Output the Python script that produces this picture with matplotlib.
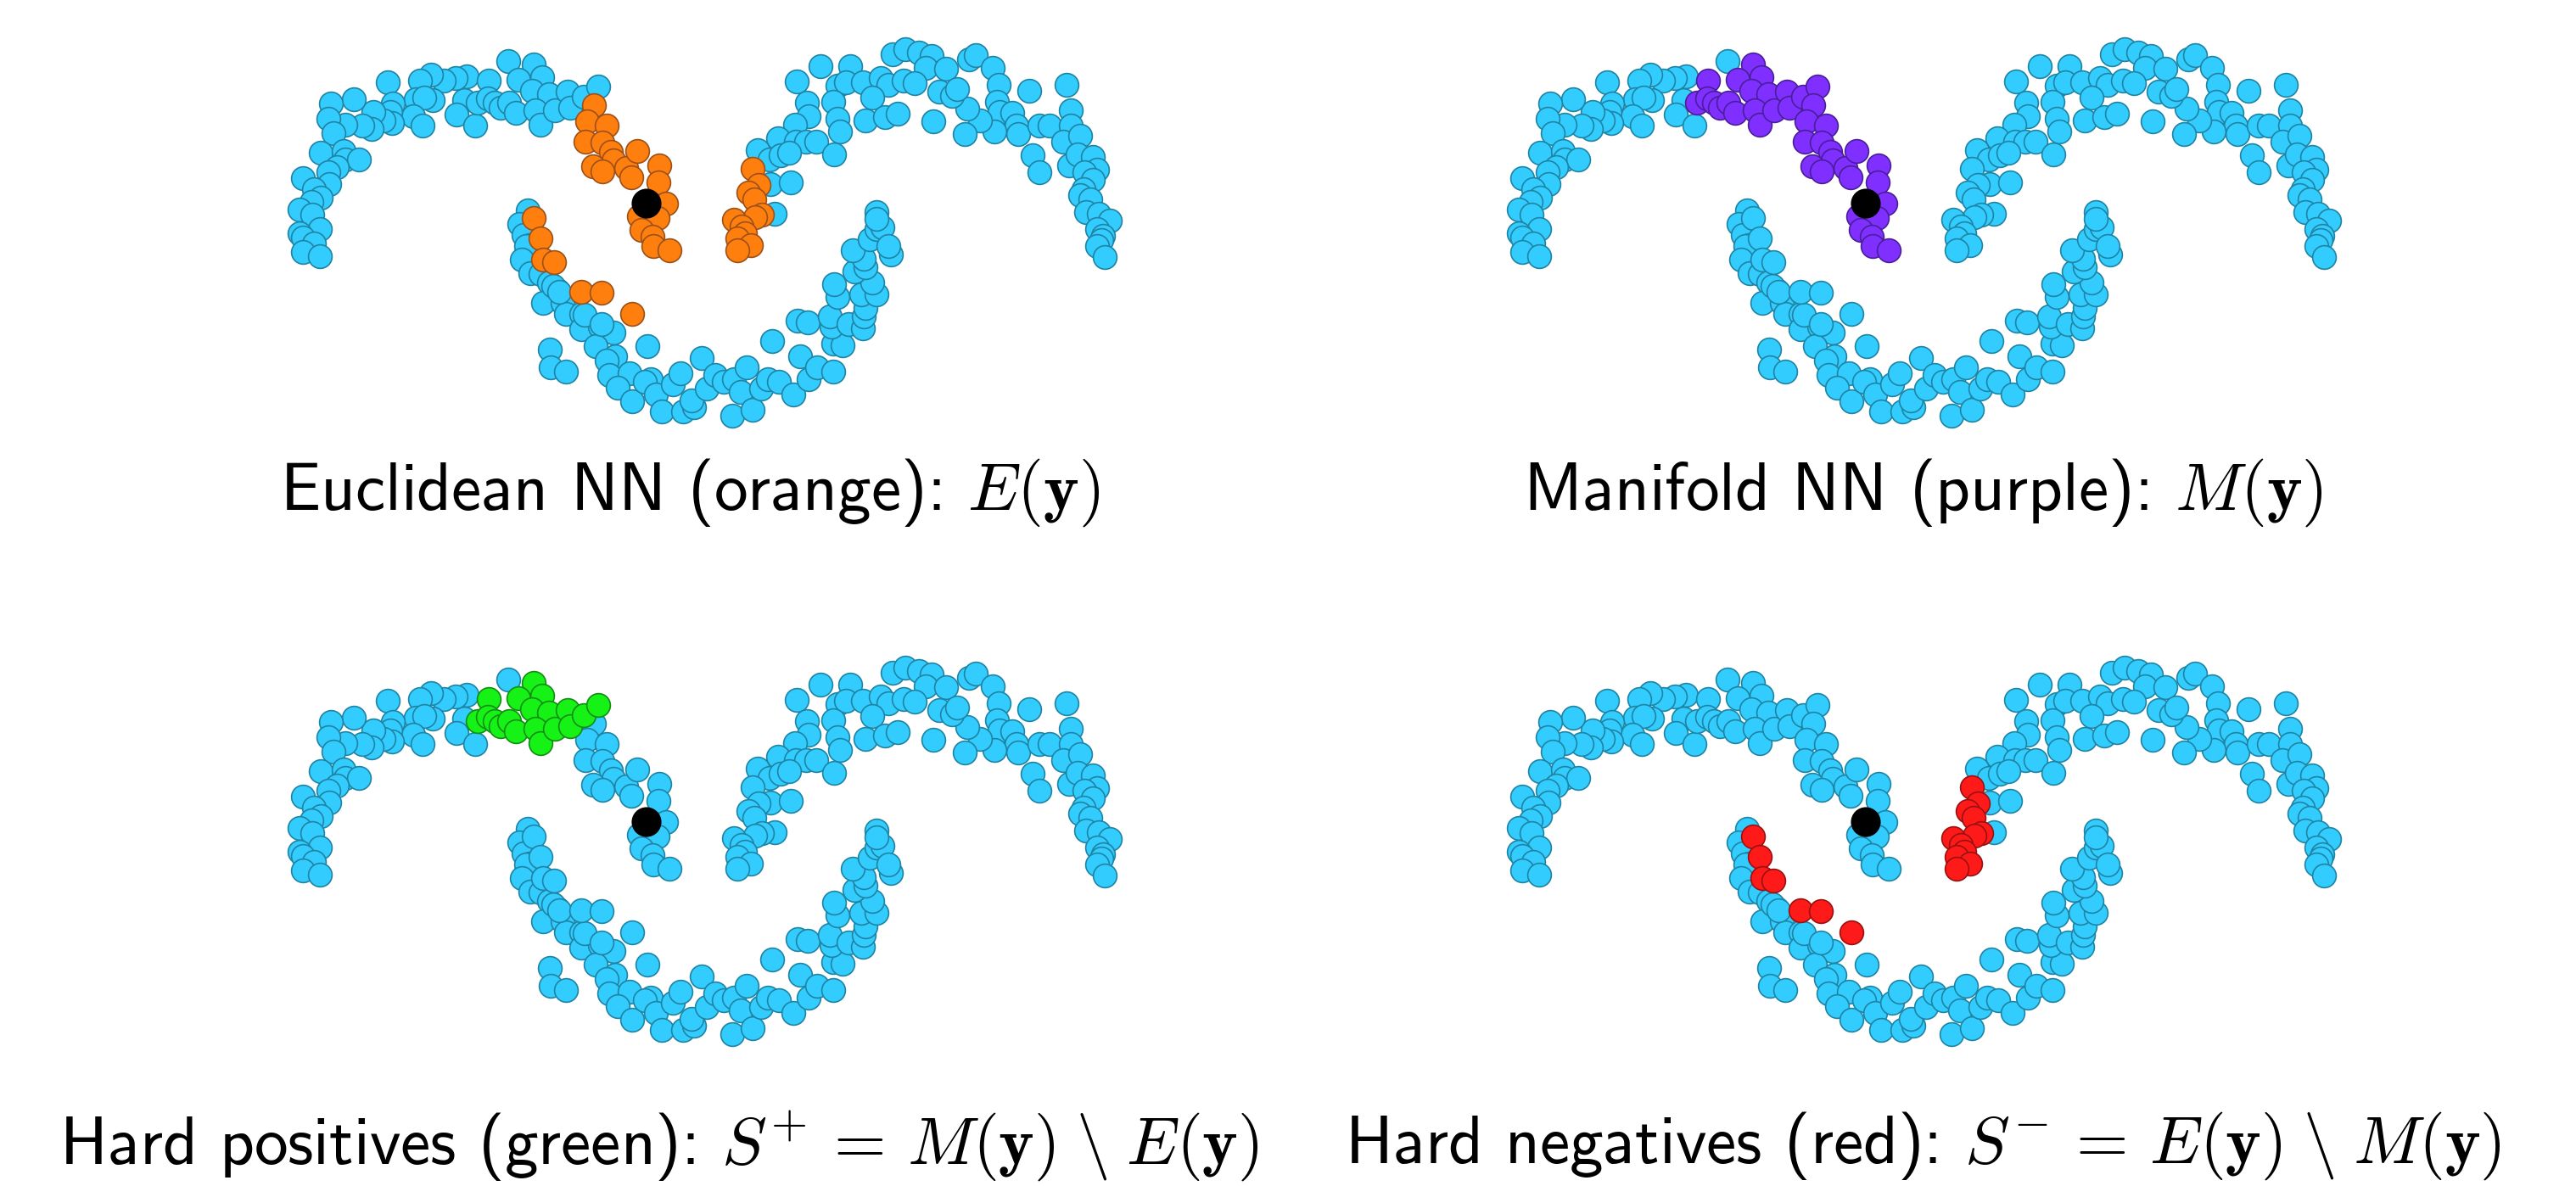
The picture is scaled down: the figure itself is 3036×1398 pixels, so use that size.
import matplotlib
matplotlib.use("Agg")
import matplotlib.pyplot as plt
import numpy as np

plt.rcParams['font.family'] = ['cmss10', 'DejaVu Sans']
plt.rcParams['mathtext.fontset'] = 'cm'
plt.rcParams['axes.unicode_minus'] = False

# ---- data (one shared 2-D point cloud, coordinates) ----
# points that belong to neither neighbourhood
rest_x = [599, 547, 538, 560, 550, 537, 523, 508, 495, 490, 510, 500, 487, 498, 457, 463, 460, 462,
          452, 440, 438, 427, 417, 407, 390, 387, 393, 378, 405, 407, 423, 397, 387, 357, 388, 370,
          378, 367, 353, 368, 377, 353, 357, 370, 357, 377,
          967, 1002, 939, 987, 997, 1017, 1038, 1047, 1065, 1052, 1067, 1083, 1098, 1091, 1115, 1107,
          1078, 1028, 951, 953, 982, 987, 990, 1020, 1043, 1058, 1100, 937, 917, 938, 950, 962, 893,
          907, 920, 930, 983, 908, 932, 913,
          1142, 1150, 1170, 1177, 1175, 1178, 1193, 1198, 1200, 1172, 1155, 1137, 1140, 1122, 1128,
          1213, 1257, 1262, 1225, 1237, 1262, 1253, 1273, 1217, 1225, 1260, 1270, 1288, 1293, 1278,
          1288, 1277, 1273, 1285, 1280, 1295, 1308, 1293, 1300, 1298, 1293, 1302,
          622, 612, 617, 624, 620, 615, 625, 637, 647, 657, 640, 663, 667, 685, 685, 707, 723, 702,
          648, 649, 667, 725, 715, 718, 742, 728, 745, 763, 767, 760, 773, 780, 793, 802, 805, 818,
          815, 827, 833, 843, 853, 865, 880, 873, 863, 887, 897, 905, 918, 935, 943, 953, 963, 982,
          910, 940, 952, 982, 993, 980, 978, 1000, 1017, 1018, 1020, 987, 983, 1015, 1033, 1028,
          1007, 1020, 1018, 1005, 1025, 1033, 1040, 1050, 1047, 1033, 1033, 652, 659, 689, 709]
rest_y = [72, 118, 135, 148, 90, 92, 95, 88, 95, 117, 118, 115, 137, 148, 97, 122, 132, 145,
          142, 132, 152, 148, 117, 147, 122, 140, 157, 180, 178, 188, 188, 197, 203, 210, 217, 223,
          233, 238, 247, 253, 270, 275, 280, 287, 297, 302,
          78, 78, 96, 101, 97, 97, 92, 100, 95, 64, 58, 62, 66, 80, 81, 108,
          98, 115, 121, 137, 120, 140, 155, 142, 138, 134, 143, 147, 163, 167, 167, 167, 177,
          188, 183, 180, 182, 217, 215, 252,
          70, 65, 80, 100, 120, 132, 133, 148, 158, 155, 142, 158, 128, 113, 105,
          107, 100, 130, 148, 148, 148, 167, 160, 183, 203, 195, 182, 185, 200, 203,
          212, 223, 230, 235, 250, 252, 260, 270, 278, 283, 290, 303,
          248, 264, 277, 289, 290, 306, 322, 323, 333, 342, 357, 357, 370, 370, 388, 385, 392, 408,
          412, 433, 438, 420, 425, 442, 440, 457, 473, 408, 447, 450, 465, 485, 453, 440, 485, 480,
          472, 422, 458, 442, 450, 447, 433, 462, 490, 483, 458, 447, 450, 465, 420, 447, 433, 438,
          402, 378, 380, 405, 407, 385, 373, 382, 387, 373, 363, 350, 335, 347, 347, 333,
          320, 315, 305, 295, 282, 270, 268, 300, 290, 250, 258, 337, 344, 371, 382]

# manifold neighbours that are not Euclidean neighbours  (M \ E)
hardpos_x = [629, 611, 639, 576, 563, 575, 583, 590, 600, 608, 627, 647, 631, 637, 654, 669, 672, 688, 705]
hardpos_y = [76, 94, 91, 95, 121, 116, 121, 127, 121, 133, 107, 111, 130, 147, 130, 108, 127, 114, 102]

# points in both neighbourhoods  (E and M)
shared_x = [700, 692, 715, 690, 710, 720, 723, 699, 710, 738, 751, 744, 777, 776, 785, 753, 775, 756,
            769, 770, 789]
shared_y = [124, 143, 148, 167, 168, 179, 189, 196, 202, 198, 178, 209, 195, 215, 240, 255, 257, 271,
            279, 290, 295]

# Euclidean neighbours that are not manifold neighbours  (E \ M)
hardneg_x = [629, 637, 640, 653, 685, 709, 745, 887, 894, 882, 889, 898, 890, 865, 874, 878, 869, 885, 869]
hardneg_y = [257, 281, 306, 309, 344, 345, 370, 199, 218, 227, 235, 253, 256, 259, 267, 275, 281, 289, 295]

query_x = [762]
query_y = [240]

titles = [r"Euclidean NN (orange): $E(\mathbf{y})$",
          r"Manifold NN (purple): $M(\mathbf{y})$",
          r"Hard positives (green): $S^{+} \,=\, M(\mathbf{y}) \;\backslash\; E(\mathbf{y})$",
          r"Hard negatives (red): $S^{-} \,=\, E(\mathbf{y}) \;\backslash\; M(\mathbf{y})$"]

BLUE = ('#33CCFF', '#1F84A3')
ORANGE = ('#FF7F0E', '#9C5018')
PURPLE = ('#7F2FFF', '#4A1E99')
GREEN = ('#16F216', '#138C13')
RED = ('#FF1A1A', '#9A1010')

W, H = 3036, 1398
fig = plt.figure(figsize=(W / 200, H / 200), dpi=200)

all_x = np.array(rest_x + hardpos_x + shared_x + hardneg_x, float)
all_y = np.array(rest_y + hardpos_y + shared_y + hardneg_y, float)
n_rest, n_hp, n_sh, n_hn = len(rest_x), len(hardpos_x), len(shared_x), len(hardneg_x)
grp = np.array([0] * n_rest + [1] * n_hp + [2] * n_sh + [3] * n_hn)

# which groups are highlighted in each panel
panels = [({2, 3}, ORANGE), ({1, 2}, PURPLE), ({1}, GREEN), ({3}, RED)]
offsets = [(0, 0), (1437, 0), (0, 729), (1437, 729)]
title_pos = [(813, 581), (2266, 581), (777, 1351), (2266, 1351)]

S = 100
for (hl, col), (dx, dy), t, (tx, ty) in zip(panels, offsets, titles, title_pos):
    x0, x1, y0, y1 = 300, 1400, 0, 530
    ax = fig.add_axes([(x0 + dx) / W, 1 - (y1 + dy) / H, (x1 - x0) / W, (y1 - y0) / H])
    ax.set_xlim(x0, x1)
    ax.set_ylim(y1, y0)
    ax.axis('off')
    mask = np.isin(grp, list(hl))
    ax.scatter(all_x[~mask], all_y[~mask], s=S, c=BLUE[0], edgecolors=BLUE[1], linewidths=0.6, zorder=2)
    ax.scatter(all_x[mask], all_y[mask], s=S, c=col[0], edgecolors=col[1], linewidths=0.6, zorder=3)
    ax.scatter(query_x, query_y, s=160, c='black', edgecolors='none', zorder=4)
    fig.text(tx / W, 1 - ty / H, t, ha='center', va='center', fontsize=28.5)

fig.savefig('out.png', dpi=200)
